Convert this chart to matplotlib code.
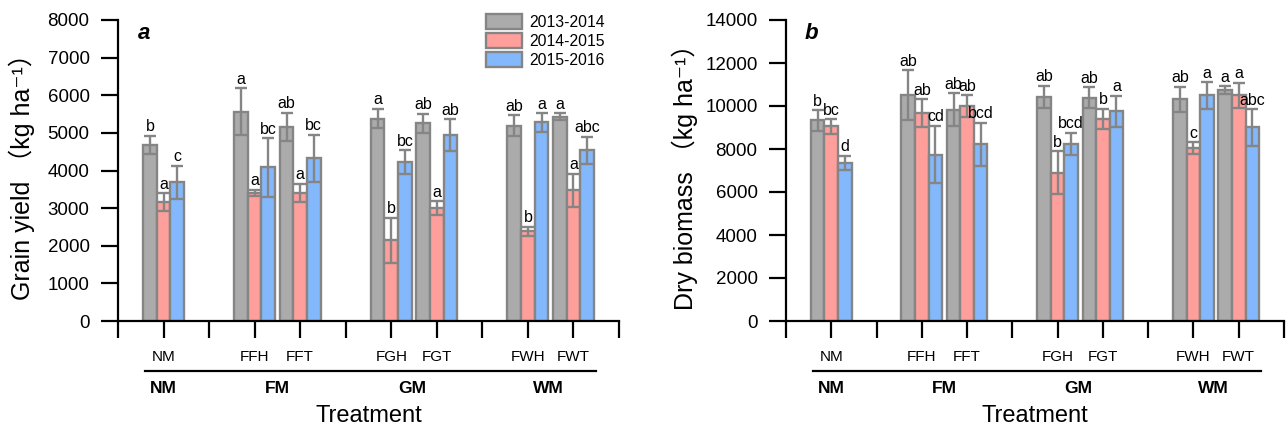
import numpy as np
import matplotlib.pyplot as plt
import matplotlib.transforms as mtransforms
from matplotlib.patches import Patch

plt.rcParams['font.family'] = ['Liberation Sans', 'Noto Sans CJK SC', 'DejaVu Sans']

# Datos
treatments = ['NM', 'FFH', 'FFT', 'FGH', 'FGT', 'FWH', 'FWT']
positions = [1, 3, 4, 6, 7, 9, 10]
groups = ['NM', 'FM', 'GM', 'WM']
group_pos = [1, 3.5, 6.45, 9.45]
seasons = ['2013-2014', '2014-2015', '2015-2016']
colors = ['#ababab', '#ff9f9c', '#84b8fc']
edge = '#858585'

# Grain yield (kg ha-1)
yield_2014 = [4680, 5560, 5160, 5380, 5250, 5190, 5430]
yield_2015 = [3160, 3400, 3400, 2150, 3000, 2380, 3470]
yield_2016 = [3690, 4080, 4320, 4230, 4940, 5280, 4540]
yield_err_2014 = [250, 620, 380, 260, 260, 280, 90]
yield_err_2015 = [240, 90, 250, 600, 180, 130, 440]
yield_err_2016 = [440, 780, 630, 310, 430, 250, 360]
yield_letters = [['b', 'a', 'ab', 'a', 'ab', 'ab', 'a'],
                 ['a', 'a', 'a', 'b', 'a', 'b', 'a'],
                 ['c', 'bc', 'bc', 'bc', 'ab', 'a', 'abc']]

# Dry biomass (kg ha-1)
bio_2014 = [9330, 10520, 9830, 10430, 10390, 10320, 10740]
bio_2015 = [9050, 9660, 10000, 6900, 9390, 8040, 10500]
bio_2016 = [7360, 7740, 8230, 8240, 9760, 10500, 9000]
bio_err_2014 = [480, 1150, 760, 510, 490, 580, 190]
bio_err_2015 = [330, 650, 500, 1000, 480, 290, 580]
bio_err_2016 = [330, 1340, 1000, 520, 720, 620, 850]
bio_letters = [['b', 'ab', 'ab', 'ab', 'ab', 'ab', 'a'],
               ['bc', 'ab', 'ab', 'b', 'b', 'c', 'a'],
               ['d', 'cd', 'bcd', 'bcd', 'a', 'a', 'abc']]


def panel(ax, means, errs, letters, ymax, ystep, ylabel, label_x, tag):
    w = 0.3
    for k in range(3):
        x = np.array(positions) + (k - 1) * w
        ax.bar(x, means[k], w, color=colors[k], edgecolor=edge, linewidth=1.7,
               zorder=2, label=seasons[k])
        ax.errorbar(x, means[k], yerr=errs[k], fmt='none', ecolor=edge,
                    elinewidth=1.7, capsize=4.5, capthick=1.7, zorder=3)
        for xi, m, e, t in zip(x, means[k], errs[k], letters[k]):
            ax.annotate(t, (xi, m + e), xytext=(0, 1), textcoords='offset points',
                        ha='center', va='bottom', fontsize=11.5)

    ax.set_xlim(0, 11)
    ax.set_ylim(0, ymax)
    ax.set_xticks(np.arange(0, 12))
    ax.set_xticklabels([])
    ax.set_yticks(np.arange(0, ymax + 1, ystep))
    ax.tick_params(axis='both', direction='out', length=12, width=1.6,
                   labelsize=13.5, pad=8.5)
    for s in ['top', 'right']:
        ax.spines[s].set_visible(False)
    for s in ['left', 'bottom']:
        ax.spines[s].set_linewidth(1.6)
    ax.set_ylabel(ylabel, fontsize=18)
    ax.yaxis.set_label_coords(label_x, 0.5)

    tr = mtransforms.blended_transform_factory(ax.transData, ax.transAxes)
    for p, t in zip(positions, treatments):
        ax.text(p, -0.12, t, transform=tr, ha='center', va='center', fontsize=11)
    ax.plot([0.6, 10.5], [-0.166, -0.166], transform=tr, color='black',
            lw=1.6, clip_on=False)
    for p, g in zip(group_pos, groups):
        ax.text(p, -0.223, g, transform=tr, ha='center', va='center',
                fontsize=12.5, fontweight='bold')
    ax.text(0.5, -0.316, 'Treatment', transform=ax.transAxes, ha='center',
            va='center', fontsize=17)
    ax.text(0.052, 0.955, tag, transform=ax.transAxes, ha='center', va='center',
            fontsize=16, fontweight='bold', fontstyle='italic')


fig = plt.figure(figsize=(12.87, 4.29), dpi=100)
ax1 = fig.add_axes([118 / 1287, 108 / 429, 501 / 1287, 301 / 429])
ax2 = fig.add_axes([786 / 1287, 108 / 429, 498 / 1287, 301 / 429])

panel(ax1, [yield_2014, yield_2015, yield_2016],
      [yield_err_2014, yield_err_2015, yield_err_2016], yield_letters,
      8000, 1000, 'Grain yield （kg ha⁻¹）', -0.166, 'a')
panel(ax2, [bio_2014, bio_2015, bio_2016],
      [bio_err_2014, bio_err_2015, bio_err_2016], bio_letters,
      14000, 2000, 'Dry biomass （kg ha⁻¹）', -0.177, 'b')

handles = [Patch(facecolor=c, edgecolor=edge, linewidth=1.7) for c in colors]
ax1.legend(handles, seasons, loc='upper left', bbox_to_anchor=(0.735, 1.02),
           frameon=False, fontsize=11.3, handlelength=2.3, handleheight=1.1,
           labelspacing=0.2, handletextpad=0.45, borderpad=0, borderaxespad=0)

fig.savefig('out.png', dpi=100)
